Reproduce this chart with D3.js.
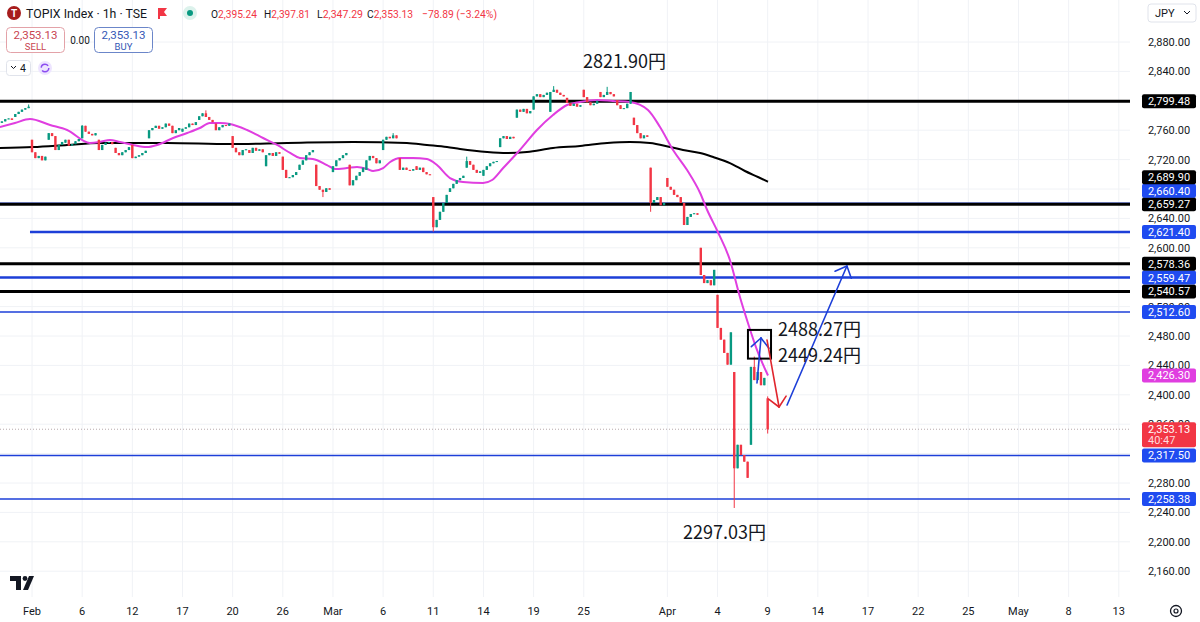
<html><head>
<title>TOPIX Index 1h</title>
<script src="https://d3js.org/d3.v7.min.js" charset="utf-8"></script>
<style>
  body { margin: 0; background: #fff; font-family: Roboto, "Liberation Sans", Arial, sans-serif; }
  .tick-text { font-size: 11px; fill: #131722; }
  .note { font-family: "Noto Sans CJK JP", "Noto Sans", sans-serif; font-size: 18px; fill: #131722; }
</style>
</head>
<body>
<div id="chart"></div>
<script>

// ---- DATA ----
// one entry per TSE session, Jan 30 is two sessions before Feb 3
var dayLabels = ["Jan 30","Jan 31","Feb 3","Feb 4","Feb 5","Feb 6","Feb 7","Feb 10","Feb 12","Feb 13",
  "Feb 14","Feb 17","Feb 18","Feb 19","Feb 20","Feb 21","Feb 25","Feb 26","Feb 27","Feb 28",
  "Mar 3","Mar 4","Mar 5","Mar 6","Mar 7","Mar 10","Mar 11","Mar 12","Mar 13","Mar 14",
  "Mar 17","Mar 18","Mar 19","Mar 21","Mar 24","Mar 25","Mar 26","Mar 27","Mar 28","Mar 31",
  "Apr 1","Apr 2","Apr 3","Apr 4","Apr 7","Apr 8","Apr 9"];
var firstDay = -2;
var barsPerDay = 5;

var dayOpens = [2772,2778,2747,2747,2743,2749,2747,2736,2740,2749,
  2764,2758,2774,2769,2752,2733,2711,2724,2706,2713,
  2703,2713,2706,2733,2722,2711,2669,2676,2709,2698,
  2737,2777,2788,2785,2804,2815,2812,2801,2777,2709,
  2695,2661,2600,2536,2431,2332,2395.24];

var hourCloses = [
  [2770,2772,2775,2776,2774],[2782,2785,2788,2790,2792],
  [2730,2722,2725,2719,2724],[2756,2752,2733,2740,2744],[2747,2739,2741,2745,2748],
  [2766,2758,2755,2753,2756],[2733,2740,2743,2744,2741],[2729,2726,2730,2733,2737],
  [2722,2724,2726,2729,2732],[2760,2763,2766,2762,2764],[2769,2766,2756,2760,2763],
  [2762,2764,2769,2767,2771],[2779,2783,2778,2774,2771],[2760,2764,2767,2766,2769],
  [2736,2730,2726,2733,2734],[2729,2736,2732,2734,2730],[2726,2729,2725,2730,2728],
  [2706,2695,2696,2699,2703],[2713,2719,2726,2730,2733],[2684,2679,2676,2681,2679],
  [2711,2719,2722,2726,2729],[2685,2692,2698,2703,2709],[2719,2725,2722,2715,2719],
  [2747,2751,2749,2753,2749],[2706,2709,2706,2705,2707],[2706,2709,2703,2700,2699],
  [2628,2638,2649,2661,2672],[2681,2687,2692,2695,2698],[2718,2713,2706,2702,2704],
  [2706,2711,2715,2717,2718],[2749,2752,2748,2751,2749],[2788,2785,2789,2783,2786],
  [2806,2809,2805,2808,2811],[2812,2815,2811,2808,2806],[2797,2793,2796,2792,2794],
  [2805,2798,2794,2796,2800],[2805,2808,2812,2809,2806],[2794,2789,2790,2796,2812],
  [2767,2756,2749,2753,2751],[2661,2665,2669,2658,2661],[2683,2679,2672,2669,2661],
  [2631,2642,2646,2647,2645],[2563,2552,2556,2549,2570],[2491,2475,2457,2441,2485],
  [2300,2332,2318,2309,2287],[2438,2420,2431,2413,2423],[2353.13]
];

// wick extremes that stick out of the bodies, keyed by bar number
var barHighs = {"-1":2795, 15:2767, 52:2787, 108:2756, 130:2724, 156:2820, 172:2819, 216:2452, 220:2397.81};
var barLows  = {87:2669, 120:2622, 185:2649, 210:2246, 220:2347.29};

// moving averages [bar, price]
var magentaMA = [[-9.6,2764.4],[-5.1,2769.8],[-0.6,2775.3],[5.4,2767.1],[10.5,2760.3],[17.3,2742.6],
  [20.3,2744.0],[23.3,2746.7],[26.3,2744.0],[30.2,2739.9],[34.4,2737.1],[37.4,2739.9],[42.2,2749.4],
  [46.4,2756.2],[50.2,2763.0],[53.2,2769.8],[56.2,2769.8],[59.2,2768.5],[64.3,2760.3],[69.1,2749.4],
  [73.3,2739.9],[77.2,2729.0],[80.1,2722.2],[84.0,2720.8],[88.2,2712.6],[90.6,2707.2],[94.2,2708.5],
  [97.2,2709.9],[100.2,2707.2],[102.0,2704.5],[105.0,2708.5],[107.1,2716.7],[110.1,2722.2],
  [113.9,2722.2],[118.1,2720.8],[121.1,2712.6],[125.0,2694.9],[128.9,2689.5],[134.9,2688.2],
  [137.6,2692.2],[140.9,2708.5],[145.9,2733.1],[151.0,2760.3],[155.8,2780.7],[160.0,2794.3],
  [163.9,2798.4],[169.0,2801.1],[173.7,2799.7],[178.8,2798.4],[184.2,2787.5],[187.8,2764.4],
  [191.7,2733.1],[195.9,2705.8],[199.8,2674.6],[201.9,2651.4],[205.1,2621.5],[208.7,2583.4],
  [211.7,2533.1],[214.1,2497.7],[216.8,2461.0],[220.1,2426.30]];
var blackMA = [[-9.6,2735.8],[0.3,2737.1],[10.5,2739.9],[20.3,2742.6],[40.4,2742.6],[59.2,2741.2],
  [76.3,2742.6],[96.0,2744.0],[112.1,2742.6],[118.1,2739.9],[124.1,2737.1],[128.0,2734.4],
  [136.1,2730.3],[142.1,2729.0],[148.0,2730.3],[155.8,2735.8],[163.9,2738.5],[172.0,2742.6],
  [178.8,2744.0],[184.8,2742.6],[190.8,2737.1],[194.7,2733.1],[199.8,2729.0],[203.7,2723.5],
  [208.7,2715.3],[213.2,2704.5],[217.1,2696.3],[220.1,2689.90]];

// horizontal levels drawn on the chart
var blackLevels = [2799.48, 2659.27, 2578.36, 2540.57];
var blueLevels  = [2660.40, 2621.40, 2559.47, 2512.60, 2317.50, 2258.38];

// time axis
var tickLabels = ["Feb","6","12","17","20","26","Mar","6","11","14","19","25","Apr","4","9","14","17","22","25","May","8","13"];
var tickDays   = [0,3,6,9,12,15,18,21,24,27,30,33,38,41,44,47,50,53,56,59,62,65];
var priceTicks = [2160,2200,2240,2280,2320,2360,2400,2440,2480,2520,2560,2600,2640,2680,2720,2760,2800,2840,2880];

// drawings
var noteTexts  = ["2821.90円","2488.27円","2449.24円","2297.03円"];
var noteBars   = [164.8, 223.1, 223.1, 194.7];
var notePrices = [2854, 2489.5, 2454, 2213];
var boxBars    = [214.1, 221.0];
var boxPrices  = [2488.27, 2449.24];
var arrowFrom  = [[216.8,2416.1],[219.8,2474.6],[225.8,2386.1]];
var arrowTo    = [[218.0,2477.3],[223.4,2383.4],[243.7,2575.2]];

var ohlcHeader = ["2,395.24","2,397.81","2,347.29","2,353.13"];
var changeText = "\u221278.89 (\u22123.24%)";
var countdown  = "40:47";

// ---- CHART ----
var W = 1200, H = 622, plotRight = 1130, plotBottom = 597;
var green = "#089981", red = "#f23645", blue = "#1d3fd8", labelBlue = "#1f4bf0", magenta = "#e03ee0";

var xScale = d3.scaleLinear().domain([0, 325]).range([32, 1118.8]);
var yScale = d3.scaleLinear().domain([2160, 2880]).range([571.2, 42]);

var svg = d3.select("#chart").append("svg")
  .attr("width", W).attr("height", H);

svg.append("defs").append("clipPath").attr("id", "plotclip")
  .append("rect").attr("x", 0).attr("y", 0).attr("width", plotRight).attr("height", plotBottom);

// grid
svg.append("g").selectAll("line").data(tickDays).join("line")
  .attr("x1", d => xScale(d * barsPerDay)).attr("x2", d => xScale(d * barsPerDay))
  .attr("y1", 0).attr("y2", plotBottom)
  .style("stroke", "#f0f2f6").style("stroke-width", 1);
svg.append("g").selectAll("line").data(priceTicks).join("line")
  .attr("x1", 0).attr("x2", plotRight)
  .attr("y1", d => yScale(d)).attr("y2", d => yScale(d))
  .style("stroke", "#f0f2f6").style("stroke-width", 1);

var plot = svg.append("g").attr("clip-path", "url(#plotclip)");

// build candles
var bars = [];
hourCloses.forEach(function(closes, i) {
  var day = i + firstDay, prev = dayOpens[i];
  closes.forEach(function(c, k) {
    var b = day * barsPerDay + k;
    var hi = Math.max(prev, c), lo = Math.min(prev, c);
    if (barHighs[b] !== undefined) hi = Math.max(hi, barHighs[b]);
    if (barLows[b] !== undefined) lo = Math.min(lo, barLows[b]);
    bars.push({b: b, o: prev, h: hi, l: lo, c: c});
    prev = c;
  });
});
var last = bars[bars.length - 1];

// right axis value labels, pushed apart from the bottom up like the platform does
var fmt = d3.format(",.2f");
var axisLabels = [];
blackLevels.forEach(v => axisLabels.push({v: v, fill: "#000"}));
blueLevels.forEach(v => axisLabels.push({v: v, fill: labelBlue}));
axisLabels.push({v: blackMA[blackMA.length - 1][1], fill: "#000"});
axisLabels.push({v: magentaMA[magentaMA.length - 1][1], fill: magenta});
axisLabels.forEach(d => d.y = yScale(d.v));
axisLabels.sort((a, b) => b.y - a.y);
for (var i = 1; i < axisLabels.length; i++) {
  if (axisLabels[i].y > axisLabels[i - 1].y - 13.5) axisLabels[i].y = axisLabels[i - 1].y - 13.5;
}

// price axis tick labels (the ones sitting right under a value tag are never visible)
var tagYs = axisLabels.map(d => d.y).concat([yScale(last.c)]);
var shownTicks = priceTicks.filter(p => !tagYs.some(y => Math.abs(y - yScale(p)) < 2.5));
svg.append("g").selectAll("text").data(shownTicks).join("text")
  .attr("class", "tick-text")
  .attr("x", 1169).attr("y", d => yScale(d) + 4)
  .attr("text-anchor", "middle")
  .text(d => fmt(d));

// time axis labels
svg.append("g").selectAll("text").data(tickLabels).join("text")
  .attr("class", "tick-text")
  .attr("x", (d, i) => xScale(tickDays[i] * barsPerDay)).attr("y", 615)
  .attr("text-anchor", "middle")
  .text(d => d);

// current price dotted line
plot.append("line")
  .attr("x1", 0).attr("x2", plotRight)
  .attr("y1", yScale(last.c)).attr("y2", yScale(last.c))
  .style("stroke", "#b8a8ab").style("stroke-width", 1).style("stroke-dasharray", "1,2");

// levels (blue first so the black one on top hides 2660.40)
var blueWidth = [2, 2.5, 2.5, 1.5, 1.5, 1.5];
var blueStart = [-12, -0.6, -12, -12, -12, -12];
blueLevels.forEach(function(v, i) {
  plot.append("line")
    .attr("x1", xScale(blueStart[i])).attr("x2", plotRight)
    .attr("y1", yScale(v)).attr("y2", yScale(v))
    .style("stroke", blue).style("stroke-width", blueWidth[i]);
});
blackLevels.forEach(function(v) {
  plot.append("line")
    .attr("x1", 0).attr("x2", plotRight)
    .attr("y1", yScale(v)).attr("y2", yScale(v))
    .style("stroke", "#000").style("stroke-width", 3);
});

// moving averages
var maLine = d3.line()
  .x(d => xScale(d[0])).y(d => yScale(d[1]))
  .curve(d3.curveMonotoneX);
plot.append("path").datum(blackMA).attr("d", maLine)
  .style("fill", "none").style("stroke", "#000").style("stroke-width", 2);
plot.append("path").datum(magentaMA).attr("d", maLine)
  .style("fill", "none").style("stroke", magenta).style("stroke-width", 2);

// candles
var cg = plot.append("g");
cg.selectAll("line").data(bars).join("line")
  .attr("x1", d => xScale(d.b)).attr("x2", d => xScale(d.b))
  .attr("y1", d => yScale(d.h)).attr("y2", d => yScale(d.l))
  .style("stroke", d => d.c >= d.o ? green : red).style("stroke-width", 1);
cg.selectAll("rect").data(bars).join("rect")
  .attr("x", d => xScale(d.b) - 1.2).attr("width", 2.4)
  .attr("y", d => yScale(Math.max(d.o, d.c)))
  .attr("height", d => Math.max(1, Math.abs(yScale(d.o) - yScale(d.c))))
  .style("fill", d => d.c >= d.o ? green : red);

// drawings: box, arrows, notes
plot.append("rect")
  .attr("x", xScale(boxBars[0])).attr("y", yScale(boxPrices[0]))
  .attr("width", xScale(boxBars[1]) - xScale(boxBars[0]))
  .attr("height", yScale(boxPrices[1]) - yScale(boxPrices[0]))
  .style("fill", "none").style("stroke", "#000").style("stroke-width", 2);

var arrowColors = [blue, "#e0262e", blue];
arrowFrom.forEach(function(f, i) {
  var x1 = xScale(f[0]), y1 = yScale(f[1]);
  var x2 = xScale(arrowTo[i][0]), y2 = yScale(arrowTo[i][1]);
  var ang = Math.atan2(y2 - y1, x2 - x1), len = 13, spread = 0.75;
  var g = plot.append("g").style("stroke", arrowColors[i]).style("stroke-width", 1.6)
    .style("fill", "none").style("stroke-linecap", "round");
  g.append("line").attr("x1", x1).attr("y1", y1).attr("x2", x2).attr("y2", y2);
  [-spread, spread].forEach(function(s) {
    g.append("line").attr("x1", x2).attr("y1", y2)
      .attr("x2", x2 - len * Math.cos(ang + s)).attr("y2", y2 - len * Math.sin(ang + s));
  });
});

svg.append("g").selectAll("text").data(noteTexts).join("text")
  .attr("class", "note")
  .attr("x", (d, i) => xScale(noteBars[i]))
  .attr("y", (d, i) => yScale(notePrices[i]) + 6.5)
  .text(d => d);

var lg = svg.append("g");
axisLabels.forEach(function(d) {
  lg.append("rect").attr("x", 1142).attr("y", d.y - 7).attr("width", 54).attr("height", 14)
    .attr("rx", 2).style("fill", d.fill);
  lg.append("text").attr("x", 1169).attr("y", d.y + 4).attr("text-anchor", "middle")
    .style("font-size", "11px").style("fill", "#fff").text(fmt(d.v));
});
// live price tag
var ly = yScale(last.c);
lg.append("rect").attr("x", 1142).attr("y", ly - 7).attr("width", 54).attr("height", 25)
  .attr("rx", 2).style("fill", red);
lg.append("text").attr("x", 1169).attr("y", ly + 4).attr("text-anchor", "middle")
  .style("font-size", "11px").style("fill", "#fff").text(fmt(last.c));
lg.append("text").attr("x", 1148).attr("y", ly + 15)
  .style("font-size", "11px").style("fill", "#ffd9dc").text(countdown);

// JPY dropdown
svg.append("rect").attr("x", 1148).attr("y", 4).attr("width", 48).attr("height", 18).attr("rx", 3)
  .style("fill", "#fff").style("stroke", "#e0e3eb");
svg.append("text").attr("x", 1155).attr("y", 17).style("font-size", "11px").style("fill", "#131722").text("JPY");
svg.append("path").attr("d", "M1184 11 l3 3 l3 -3").style("fill", "none").style("stroke", "#131722");

// gear icon bottom right
svg.append("circle").attr("cx", 1176).attr("cy", 611).attr("r", 5.5)
  .style("fill", "none").style("stroke", "#131722").style("stroke-width", 1.3);
svg.append("circle").attr("cx", 1176).attr("cy", 611).attr("r", 2)
  .style("fill", "none").style("stroke", "#131722").style("stroke-width", 1.2);

// TradingView mark bottom left
svg.append("path").attr("d", "M10 576 h11 v14 h-5 v-9 h-6 z").style("fill", "#131722");
svg.append("circle").attr("cx", 25).attr("cy", 578.5).attr("r", 2.4).style("fill", "#131722");
svg.append("path").attr("d", "M29 576 h5 l-6 14 h-5 z").style("fill", "#131722");

// ---- header ----
var hd = svg.append("g");
hd.append("circle").attr("cx", 14).attr("cy", 13).attr("r", 7).style("fill", "#a71d1d");
hd.append("text").attr("x", 14).attr("y", 17).attr("text-anchor", "middle")
  .style("font-size", "10px").style("font-weight", "bold").style("fill", "#fff").text("T");
hd.append("text").attr("x", 26).attr("y", 18).style("font-size", "13.5px").style("fill", "#131722")
  .attr("textLength", 121).attr("lengthAdjust", "spacingAndGlyphs")
  .text("TOPIX Index \u00b7 1h \u00b7 TSE");
hd.append("path").attr("d", "M158 8 h9 l-3 4 l3 4 h-7 v3 h-2 z").style("fill", red);
hd.append("circle").attr("cx", 190).attr("cy", 13).attr("r", 7).style("fill", "#dcf2ec");
hd.append("circle").attr("cx", 190).attr("cy", 13).attr("r", 3).style("fill", green);
var ohlcLetters = ["O","H","L","C"], ohlcX = [211, 264, 317, 367];
ohlcLetters.forEach(function(l, i) {
  var t = hd.append("text").attr("x", ohlcX[i]).attr("y", 18).style("font-size", "11.5px")
    .attr("textLength", 46).attr("lengthAdjust", "spacingAndGlyphs");
  t.append("tspan").style("fill", "#131722").text(l);
  t.append("tspan").style("fill", red).text(ohlcHeader[i]);
});
hd.append("text").attr("x", 422).attr("y", 18).style("font-size", "11.5px").style("fill", red)
  .attr("textLength", 75).attr("lengthAdjust", "spacingAndGlyphs").text(changeText);

// sell / buy
hd.append("rect").attr("x", 6.5).attr("y", 27.5).attr("width", 58).attr("height", 25).attr("rx", 4)
  .style("fill", "#fff").style("stroke", "#e3a2a8");
hd.append("text").attr("x", 35.5).attr("y", 39).attr("text-anchor", "middle")
  .style("font-size", "11.5px").style("fill", "#c8434f").text(fmt(last.c));
hd.append("text").attr("x", 35.5).attr("y", 50).attr("text-anchor", "middle")
  .style("font-size", "9.5px").style("fill", "#c8434f").text("SELL");
hd.append("text").attr("x", 80).attr("y", 44).attr("text-anchor", "middle")
  .style("font-size", "10px").style("fill", "#131722").text("0.00");
hd.append("rect").attr("x", 94.5).attr("y", 27.5).attr("width", 58).attr("height", 25).attr("rx", 4)
  .style("fill", "#fff").style("stroke", "#6b86c9");
hd.append("text").attr("x", 123.5).attr("y", 39).attr("text-anchor", "middle")
  .style("font-size", "11.5px").style("fill", "#3558b5").text(fmt(last.c));
hd.append("text").attr("x", 123.5).attr("y", 50).attr("text-anchor", "middle")
  .style("font-size", "9.5px").style("fill", "#3558b5").text("BUY");

// collapse control + sync icon
hd.append("rect").attr("x", 6.5).attr("y", 60.5).attr("width", 24).attr("height", 15).attr("rx", 3)
  .style("fill", "#fff").style("stroke", "#e0e3eb");
hd.append("path").attr("d", "M11 66 l2.5 2.5 l2.5 -2.5").style("fill", "none").style("stroke", "#131722");
hd.append("text").attr("x", 20).attr("y", 72).style("font-size", "10.5px").style("fill", "#131722").text("4");
hd.append("circle").attr("cx", 45).attr("cy", 68).attr("r", 7).style("fill", "#ede4ff");
hd.append("circle").attr("cx", 45).attr("cy", 68).attr("r", 3.8)
  .style("fill", "none").style("stroke", "#8b4cf0").style("stroke-width", 1.5).style("stroke-dasharray", "9,3");

</script>
</body></html>
